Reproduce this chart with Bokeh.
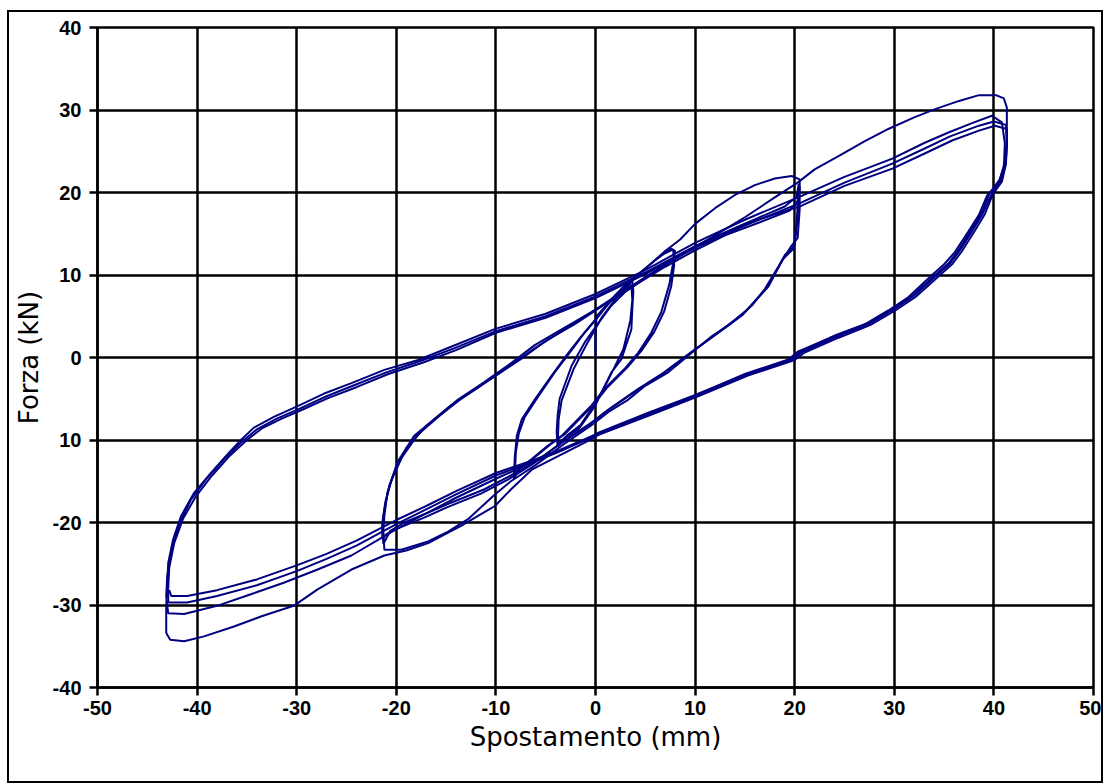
from bokeh.plotting import figure
from bokeh.models import FixedTicker, Range1d
from bokeh.embed import file_html
from bokeh.resources import INLINE

# ---------------- data ----------------
x_ticks = [-50, -40, -30, -20, -10, 0, 10, 20, 30, 40, 50]
x_tick_labels = ["-50", "-40", "-30", "-20", "-10", "0", "10", "20", "30", "40", "50"]
y_ticks = [-40, -30, -20, -10, 0, 10, 20, 30, 40]
y_tick_labels = ["-40", "-30", "-20", "10", "0", "10", "20", "30", "40"]

start_pts = [(0.0, 0.0), (0.0, 2.5), (0.1, 5.0)]

cycle_4 = [(0.1, 5.0), (1.0, 6.2), (2.0, 7.3), (3.0, 8.4), (3.7, 9.3), (3.8, 8.0), (3.7, 6.0),
           (3.6, 3.4), (2.6, -0.2), (1.6, -1.8), (0.6, -4.2), (0.0, -5.8), (-1.7, -8.7),
           (-3.0, -9.7), (-3.8, -10.8), (-3.9, -9.0), (-3.8, -7.0), (-3.6, -5.0), (-2.4, -1.0),
           (-1.1, 1.8), (0.3, 4.2), (1.6, 6.3), (2.7, 7.6), (3.6, 8.8), (3.7, 7.0), (3.5, 4.5),
           (2.8, 1.0), (1.9, -1.2), (0.9, -3.6), (0.1, -5.3), (-1.5, -8.2), (-2.9, -9.5),
           (-3.8, -10.5)]

cycle_8 = [(-3.8, -10.5), (-3.7, -7.5), (-3.4, -5.2), (-2.2, -1.4), (-0.8, 1.8), (0.6, 4.8),
           (2.2, 7.4), (4.0, 9.8), (6.0, 11.8), (7.6, 13.2), (8.0, 12.9), (7.8, 11.5), (7.4, 8.8),
           (6.6, 5.5), (5.6, 3.0), (4.3, 0.6), (2.9, -1.4), (0.9, -3.8), (-0.4, -5.8), (-2.1, -7.9),
           (-3.4, -9.5), (-4.8, -10.7), (-6.4, -12.3), (-7.8, -13.6), (-8.2, -14.8), (-8.1, -12.0),
           (-7.9, -9.5), (-7.4, -7.5), (-6.1, -5.1), (-4.4, -2.2), (-2.7, 0.6), (-1.4, 2.6),
           (0.0, 4.6), (1.3, 6.7), (2.9, 8.7), (4.9, 10.7), (6.6, 12.4), (7.8, 13.1), (7.9, 11.2),
           (7.6, 8.6), (6.9, 5.6), (5.9, 3.1), (4.6, 0.8), (3.2, -1.2), (1.2, -3.6), (-0.1, -5.6),
           (-1.8, -7.7), (-3.1, -9.3), (-4.5, -10.5), (-6.1, -12.1), (-7.5, -13.4), (-8.1, -14.4)]

cycle_20a = [(-8.1, -14.4), (-8.0, -11.5), (-7.7, -9.2), (-7.1, -7.2), (-5.8, -4.8), (-4.1, -1.8),
             (-2.4, 0.9), (-1.1, 3.0), (0.3, 5.0), (1.7, 7.1), (3.3, 9.1), (5.3, 11.1), (7.0, 12.9),
             (8.5, 14.3), (10.0, 16.2), (12.0, 18.1), (14.0, 19.7), (16.0, 20.9), (18.0, 21.7),
             (19.7, 22.0), (20.5, 21.6), (20.5, 18.0), (20.3, 14.5), (19.6, 13.4), (18.0, 10.3),
             (17.0, 8.3), (15.7, 6.3), (13.7, 4.2), (11.7, 2.6), (9.7, 0.6), (7.3, -1.8),
             (4.9, -3.5), (3.3, -5.1), (1.3, -6.6), (-0.4, -8.2), (-3.4, -10.7), (-6.1, -13.1),
             (-8.5, -15.0), (-10.1, -16.6), (-12.8, -19.6), (-14.8, -21.1), (-16.8, -22.3),
             (-19.5, -23.3), (-21.2, -23.3), (-21.3, -21.0), (-21.2, -19.2), (-20.9, -16.4),
             (-19.9, -12.7), (-18.2, -9.5), (-16.2, -7.5), (-13.8, -5.1), (-11.2, -3.0),
             (-8.5, -0.7), (-6.1, 1.5), (-3.4, 3.4), (-0.4, 5.5), (2.9, 7.9), (6.3, 10.7),
             (9.0, 12.7), (12.3, 14.8), (15.7, 16.6), (19.0, 18.3), (20.2, 19.5), (20.4, 21.0)]

cycle_20b = [(20.4, 21.0), (20.5, 20.6), (20.3, 17.0), (20.0, 13.6), (19.0, 12.4), (17.4, 8.7),
             (15.0, 5.5), (12.3, 3.0), (10.0, 1.0), (6.9, -1.8), (4.3, -3.8), (1.3, -6.3),
             (-0.4, -7.9), (-3.4, -10.3), (-6.1, -12.7), (-8.5, -14.3), (-11.2, -16.0),
             (-14.5, -17.6), (-16.8, -18.8), (-19.2, -20.0), (-20.6, -21.0), (-21.3, -22.6),
             (-21.4, -20.5), (-21.2, -18.5), (-20.7, -15.5), (-19.5, -12.2), (-17.8, -9.3),
             (-15.8, -7.2), (-13.5, -5.0), (-10.5, -2.6), (-7.5, -0.2), (-5.0, 2.0), (-2.0, 4.1),
             (1.0, 6.5), (4.0, 8.8), (7.0, 11.0), (10.0, 13.0), (13.0, 14.8), (16.5, 16.4),
             (19.5, 17.8), (20.3, 19.0), (20.4, 20.4)]

cycle_20c = [(20.4, 20.4), (20.4, 20.2), (20.2, 16.5), (19.9, 13.2), (18.8, 11.9), (17.2, 8.4),
             (14.8, 5.2), (12.0, 2.7), (9.7, 0.7), (6.6, -2.1), (4.0, -4.1), (1.0, -6.6),
             (-0.7, -8.2), (-3.7, -10.6), (-6.4, -13.0), (-8.8, -14.8), (-11.5, -16.5),
             (-14.8, -18.1), (-17.2, -19.4), (-19.6, -20.6), (-21.0, -21.4), (-21.4, -22.0)]

cycle_40a = [(-21.4, -22.0), (-21.4, -20.0), (-21.1, -17.5), (-20.4, -14.5), (-19.0, -11.0),
             (-17.0, -8.3), (-14.5, -5.8), (-11.5, -3.4), (-8.5, -0.9), (-6.0, 1.2), (-3.0, 3.5),
             (0.0, 5.8), (3.0, 8.2), (6.0, 10.5), (9.0, 12.7), (12.0, 14.8), (15.0, 17.0),
             (18.0, 19.4), (20.3, 21.2), (22.0, 22.8), (24.4, 24.4), (27.0, 26.2), (29.4, 27.7),
             (32.0, 29.1), (34.1, 30.1), (36.5, 31.1), (38.5, 31.8), (40.2, 31.8), (41.0, 31.4),
             (41.3, 30.3), (41.3, 26.1), (41.1, 23.7), (40.6, 21.6), (39.6, 20.0), (38.8, 17.6),
             (37.8, 15.6), (36.5, 13.1), (35.5, 11.5), (34.1, 10.0), (31.8, 7.5), (29.8, 5.9),
             (27.4, 4.2), (24.1, 2.7), (20.7, 0.8), (19.7, -0.1), (15.0, -2.0), (10.0, -4.6),
             (5.6, -6.7), (0.6, -9.1), (-0.4, -9.9), (-3.5, -11.8), (-6.4, -13.6), (-8.5, -16.0),
             (-10.1, -18.0), (-13.5, -20.4), (-16.8, -22.5), (-19.0, -23.4), (-21.2, -24.0),
             (-24.5, -25.7), (-27.9, -28.1), (-30.3, -30.1), (-33.6, -31.4), (-36.3, -32.6),
             (-39.3, -33.8), (-41.3, -34.4), (-42.7, -34.2), (-43.1, -33.4)]

cycle_40b = [(-43.1, -33.4), (-43.1, -30.1), (-43.0, -27.7), (-42.9, -24.9), (-42.4, -22.0),
             (-41.6, -19.2), (-40.3, -16.4), (-38.6, -14.0), (-37.0, -11.8), (-35.6, -10.0),
             (-34.3, -8.5), (-32.3, -7.2), (-29.9, -5.9), (-27.3, -4.4), (-24.5, -3.1),
             (-21.2, -1.5), (-17.8, -0.3), (-14.5, 1.3), (-10.0, 3.5), (-5.0, 5.3), (0.0, 7.7),
             (5.0, 10.6), (10.0, 13.9), (15.0, 16.7), (20.7, 19.6), (25.0, 21.9), (29.8, 24.1),
             (33.0, 26.0), (35.5, 27.3), (38.0, 28.5), (39.8, 29.3), (40.8, 28.5), (41.1, 26.0),
             (41.0, 23.0), (40.4, 21.0), (39.3, 19.6), (38.5, 17.3), (37.4, 15.2), (36.1, 12.8),
             (35.0, 11.3), (33.6, 9.8), (31.4, 7.3), (29.4, 5.7), (27.0, 4.0), (23.8, 2.5),
             (20.3, 0.7), (19.3, -0.3), (14.6, -2.3), (9.7, -4.7), (5.3, -6.7), (0.3, -9.1),
             (-0.6, -9.7), (-3.8, -11.5), (-6.5, -12.8), (-10.0, -14.7), (-14.0, -17.0),
             (-17.0, -18.9), (-20.0, -20.8), (-24.5, -24.0), (-27.9, -25.7), (-31.3, -27.3),
             (-34.6, -28.7), (-38.0, -30.1), (-41.3, -31.1), (-42.9, -31.0), (-43.1, -29.0)]

cycle_40c = [(-43.1, -29.0), (-43.0, -26.5), (-42.6, -23.5), (-41.8, -20.2), (-40.6, -17.2),
             (-39.0, -14.6), (-37.3, -12.3), (-35.5, -10.2), (-34.0, -8.7), (-32.0, -7.4),
             (-29.7, -6.2), (-27.0, -4.7), (-24.3, -3.4), (-21.0, -1.8), (-17.5, -0.4),
             (-14.2, 1.1), (-10.0, 3.2), (-5.0, 5.0), (0.0, 7.4), (5.0, 10.3), (10.0, 13.5),
             (15.0, 16.2), (20.7, 18.4), (25.0, 20.8), (29.8, 22.9), (33.0, 24.7), (35.8, 26.3),
             (38.5, 27.5), (40.1, 28.1), (41.3, 27.7), (41.3, 25.5), (41.2, 23.4), (40.8, 21.3),
             (39.9, 19.8), (39.1, 17.4), (38.1, 15.4), (36.8, 12.9), (35.8, 11.3), (34.4, 9.8),
             (32.1, 7.3), (30.1, 5.7), (27.7, 4.0), (24.4, 2.4), (21.0, 0.6), (20.0, -0.3),
             (15.3, -2.2), (10.3, -4.7), (5.9, -6.8), (0.9, -9.1), (-0.2, -9.6), (-3.5, -11.3),
             (-6.3, -12.6), (-10.0, -14.3), (-14.0, -16.6), (-17.0, -18.4), (-20.0, -20.2),
             (-24.0, -22.8), (-27.0, -24.4), (-30.0, -25.9), (-34.0, -27.6), (-38.0, -28.9),
             (-41.0, -29.7), (-42.9, -29.7), (-42.9, -28.0)]

cycle_40d = [(-42.9, -28.0), (-42.8, -25.5), (-42.3, -22.5), (-41.4, -19.5), (-40.1, -16.8),
             (-38.5, -14.3), (-36.8, -12.0), (-35.0, -10.0), (-33.5, -8.6), (-31.5, -7.4),
             (-29.4, -6.3), (-26.8, -4.9), (-24.0, -3.6), (-20.8, -2.0), (-17.3, -0.6),
             (-14.0, 0.9), (-10.0, 3.0), (-5.0, 4.8), (0.0, 7.2), (5.0, 10.1), (10.0, 13.3),
             (15.0, 16.0), (20.7, 18.8), (25.0, 21.2), (29.8, 23.5), (33.0, 25.3), (35.6, 26.8),
             (38.5, 28.1), (40.0, 28.6), (41.2, 28.2), (41.3, 26.0), (41.2, 23.6), (40.7, 21.5),
             (39.8, 19.9), (38.9, 17.5), (37.9, 15.5), (36.6, 13.0), (35.6, 11.4), (34.2, 9.9),
             (31.9, 7.4), (29.9, 5.8), (27.5, 4.1), (24.2, 2.5), (20.8, 0.7), (19.8, -0.2),
             (15.1, -2.1), (10.1, -4.6), (5.7, -6.7), (0.7, -9.0), (-0.3, -9.5), (-3.6, -11.2),
             (-6.4, -12.5), (-10.0, -14.0), (-14.0, -16.2), (-17.0, -18.0), (-20.0, -19.7),
             (-24.0, -22.2), (-27.0, -23.8), (-30.0, -25.2), (-34.0, -26.9), (-38.0, -28.2),
             (-41.0, -28.9), (-42.6, -28.9), (-42.8, -28.2)]

cycles = [start_pts, cycle_4, cycle_8, cycle_20a, cycle_20b, cycle_20c,
          cycle_40a, cycle_40b, cycle_40c, cycle_40d]

# ---------------- figure ----------------
TICK_FONT = "Liberation Sans"
LABEL_FONT = "DejaVu Sans"

p = figure(width=1096, height=773, x_range=Range1d(-50, 50), y_range=Range1d(-40, 40),
           output_backend="svg", toolbar_location=None,
           min_border_left=88, min_border_right=12, min_border_top=15, min_border_bottom=98,
           background_fill_color="white", border_fill_color="white")
p.styles = {"border": "2px solid black", "margin-left": "7px", "margin-top": "10px"}

for pts in cycles:
    xs = [a for a, b in pts]
    ys = [b for a, b in pts]
    p.line(xs, ys, line_color="#000080", line_width=2)

p.xaxis.ticker = FixedTicker(ticks=x_ticks)
p.yaxis.ticker = FixedTicker(ticks=y_ticks)
p.xaxis.major_label_overrides = {t: s for t, s in zip(x_ticks, x_tick_labels)}
p.yaxis.major_label_overrides = {t: s for t, s in zip(y_ticks, y_tick_labels)}
p.xgrid.ticker = FixedTicker(ticks=x_ticks)
p.ygrid.ticker = FixedTicker(ticks=y_ticks)

for g in (p.xgrid, p.ygrid):
    g.grid_line_color = "black"
    g.grid_line_width = 2.5
    g.grid_line_alpha = 1.0

p.outline_line_color = "black"
p.outline_line_width = 2.5
p.outline_line_alpha = 1.0

for ax in (p.xaxis, p.yaxis):
    ax.axis_line_color = "black"
    ax.axis_line_width = 2.5
    ax.major_tick_line_color = "black"
    ax.major_tick_line_width = 2.5
    ax.major_tick_out = 8
    ax.major_tick_in = 0
    ax.minor_tick_line_color = None
    ax.major_label_text_font = TICK_FONT
    ax.major_label_text_font_style = "bold"
    ax.major_label_text_font_size = "20px"
    ax.major_label_text_color = "black"
    ax.axis_label_text_font = LABEL_FONT
    ax.axis_label_text_font_style = "normal"
    ax.axis_label_text_font_size = "26px"
    ax.axis_label_text_color = "black"

p.xaxis.axis_label = "Spostamento (mm)"
p.yaxis.axis_label = "Forza (kN)"
p.xaxis.major_label_standoff = 5
p.yaxis.major_label_standoff = 8
p.xaxis.axis_label_standoff = 4
p.yaxis.axis_label_standoff = 6

open("out.html", "w").write(file_html(p, INLINE))
